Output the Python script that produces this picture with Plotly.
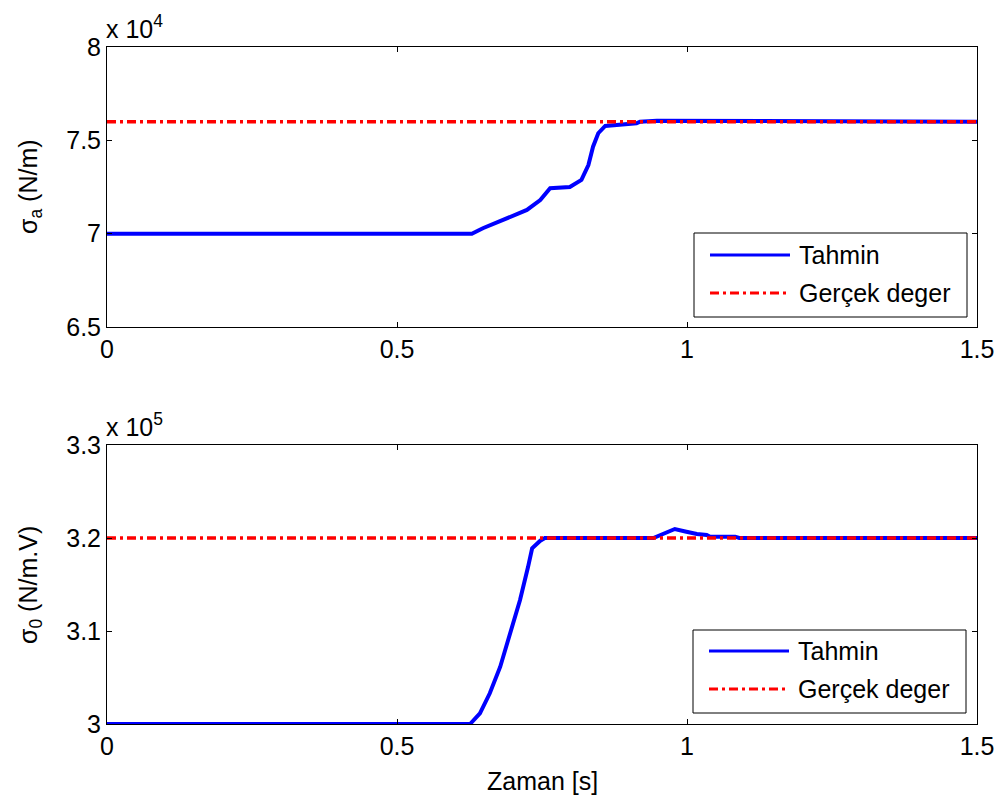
import plotly.graph_objects as go
from plotly.subplots import make_subplots

# Top subplot: sigma_a estimate (x 1e4 N/m)
t_a = [0, 0.629, 0.648, 0.689, 0.724, 0.747, 0.764, 0.798, 0.818, 0.830, 0.838, 0.847, 0.859,
       0.913, 0.919, 0.948, 1.105, 1.112, 1.5]
sa_est = [7.0, 7.0, 7.029, 7.082, 7.127, 7.18, 7.243, 7.25, 7.288, 7.368, 7.466, 7.538, 7.577,
          7.591, 7.60, 7.605, 7.605, 7.60, 7.60]
t_true = [0, 1.5]
sa_true = [7.6, 7.6]

# Bottom subplot: sigma_0 estimate (x 1e5 N/m.V)
t_0 = [0, 0.626, 0.643, 0.660, 0.678, 0.695, 0.712, 0.726, 0.733, 0.747, 0.755,
       0.942, 0.959, 0.979, 0.999, 1.017, 1.034, 1.04, 1.083, 1.09, 1.5]
s0_est = [3.0, 3.0, 3.0115, 3.033, 3.0616, 3.0975, 3.133, 3.169, 3.189, 3.1971, 3.2,
          3.2, 3.205, 3.2097, 3.2068, 3.2043, 3.2032, 3.2014, 3.2014, 3.2, 3.2]
s0_true = [3.2, 3.2]

x_ticks = [0, 0.5, 1, 1.5]
x_tick_labels = ["0", "0.5", "1", "1.5"]
ya_ticks = [6.5, 7, 7.5, 8]
ya_tick_labels = ["6.5", "7", "7.5", "8"]
y0_ticks = [3.0, 3.1, 3.2, 3.3]
y0_tick_labels = ["3", "3.1", "3.2", "3.3"]
series_names = ["Tahmin", "Gerçek deger"]

FONT = "Liberation Sans, Arial, sans-serif"
FS = 25
DASH = "9px,4px,3px,4px"
BLUE = "#0000ff"
RED = "#ff0000"

# plot area in pixels: x 107..977, y 47..724
W, H = 1004, 805
L, R, T, B = 107, 27, 47, 81
PW, PH = W - L - R, H - T - B


def px(x):
    return (x - L) / PW


def py(y):
    return (H - B - y) / PH


fig = make_subplots(rows=2, cols=1)

fig.add_trace(go.Scatter(x=t_a, y=sa_est, mode="lines", name=series_names[0],
                         line=dict(color=BLUE, width=4), showlegend=False), row=1, col=1)
fig.add_trace(go.Scatter(x=t_true, y=sa_true, mode="lines", name=series_names[1],
                         line=dict(color=RED, width=3.5, dash=DASH), showlegend=False), row=1, col=1)
fig.add_trace(go.Scatter(x=t_0, y=s0_est, mode="lines", name=series_names[0],
                         line=dict(color=BLUE, width=4), showlegend=False), row=2, col=1)
fig.add_trace(go.Scatter(x=t_true, y=s0_true, mode="lines", name=series_names[1],
                         line=dict(color=RED, width=3.5, dash=DASH), showlegend=False), row=2, col=1)

axis_common = dict(showgrid=False, zeroline=False, showline=True, linecolor="black",
                   linewidth=1, mirror="allticks", ticks="inside", ticklen=5,
                   tickcolor="black", automargin=False,
                   tickfont=dict(family=FONT, size=FS, color="black"))

fig.update_xaxes(range=[0, 1.5], tickvals=x_ticks, ticktext=x_tick_labels, **axis_common)
fig.update_yaxes(range=[6.5, 8], tickvals=ya_ticks, ticktext=ya_tick_labels, row=1, col=1, **axis_common)
fig.update_yaxes(range=[3.0, 3.3], tickvals=y0_ticks, ticktext=y0_tick_labels, row=2, col=1, **axis_common)

tfont = dict(family=FONT, size=FS, color="black")
# axis titles
fig.add_annotation(text="σ<sub>a</sub> (N/m)", xref="paper", yref="paper", x=px(30), y=py(187),
                   textangle=-90, showarrow=False, font=tfont, xanchor="center", yanchor="middle")
fig.add_annotation(text="σ<sub>0</sub> (N/m.V)", xref="paper", yref="paper", x=px(30), y=py(585),
                   textangle=-90, showarrow=False, font=tfont, xanchor="center", yanchor="middle")
fig.add_annotation(text="Zaman [s]", xref="paper", yref="paper", x=px(542), y=py(781),
                   showarrow=False, font=tfont, xanchor="center", yanchor="middle")
# exponent labels
fig.add_annotation(text="x 10<sup>4</sup>", xref="paper", yref="paper", x=px(104), y=py(47),
                   xanchor="left", yanchor="bottom", showarrow=False, yshift=2, font=tfont)
fig.add_annotation(text="x 10<sup>5</sup>", xref="paper", yref="paper", x=px(104), y=py(445),
                   xanchor="left", yanchor="bottom", showarrow=False, yshift=2, font=tfont)

# legends (MATLAB-style boxes)
legends = [
    dict(box=(694, 233, 967, 317), rows=(255, 293), x0=710, x1=790, tx=797),
    dict(box=(693, 630, 966, 713), rows=(651, 689), x0=709, x1=789, tx=796),
]
for lg in legends:
    bx0, by0, bx1, by1 = lg["box"]
    fig.add_shape(type="rect", xref="paper", yref="paper", x0=px(bx0), x1=px(bx1),
                  y0=py(by1), y1=py(by0), line=dict(color="black", width=1),
                  fillcolor="white", layer="above")
    styles = [dict(color=BLUE, width=3), dict(color=RED, width=3, dash=DASH)]
    for name, ry, st in zip(series_names, lg["rows"], styles):
        fig.add_shape(type="line", xref="paper", yref="paper", x0=px(lg["x0"]), x1=px(lg["x1"]),
                      y0=py(ry), y1=py(ry), line=st, layer="above")
        fig.add_annotation(text=name, xref="paper", yref="paper", x=px(lg["tx"]), y=py(ry),
                           xanchor="left", yanchor="middle", showarrow=False, font=tfont)

fig.update_layout(
    width=W, height=H,
    margin=dict(l=L, r=R, t=T, b=B),
    plot_bgcolor="white", paper_bgcolor="white",
    showlegend=False,
)
fig.layout.yaxis.domain = [py(327), 1.0]
fig.layout.yaxis2.domain = [0.0, py(445)]

fig.write_html("out.html")
